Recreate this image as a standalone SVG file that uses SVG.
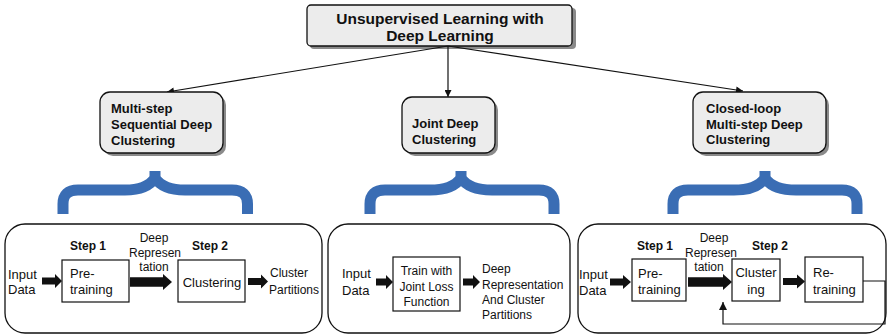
<svg xmlns="http://www.w3.org/2000/svg" width="888" height="336" viewBox="0 0 888 336">
<defs>
<style>
.t{font-family:"Liberation Sans",Arial,sans-serif;fill:#111}
.b{font-weight:bold}
.nd{fill:#ececec;stroke:#111;stroke-width:1.3}
.sh{fill:#8a8a8a}
.br{fill:none;stroke:#3a6db4;stroke-width:11;stroke-linejoin:miter}
.ob{fill:#fff;stroke:#111;stroke-width:1.3}
.bx{fill:#fff;stroke:#111;stroke-width:1.2}
.ln{fill:none;stroke:#111;stroke-width:1.2}
.ba{fill:#111}
</style>
<marker id="ah" viewBox="0 0 10 10" refX="10" refY="5" markerWidth="9" markerHeight="7" markerUnits="userSpaceOnUse" orient="auto">
<path d="M0,0 L10,5 L0,10 z" fill="#111"/>
</marker>
<marker id="ah2" viewBox="0 0 10 10" refX="10" refY="5" markerWidth="11" markerHeight="8" markerUnits="userSpaceOnUse" orient="auto">
<path d="M0,0 L10,5 L0,10 z" fill="#111"/>
</marker>
</defs>

<g id="root">
<rect class="sh" x="310" y="8" width="266" height="41" rx="4"/>
<rect class="nd" x="307" y="5" width="265" height="41" rx="4"/>
<text class="t b" x="440" y="23.5" font-size="15.5" text-anchor="middle">Unsupervised Learning with</text>
<text class="t b" x="440" y="41" font-size="15.5" text-anchor="middle">Deep Learning</text>
</g>

<g id="connectors">
<line class="ln" x1="448" y1="46" x2="167" y2="92" marker-end="url(#ah)"/>
<line class="ln" x1="448" y1="46" x2="448" y2="97" marker-end="url(#ah)"/>
<line class="ln" x1="448" y1="46" x2="743" y2="91" marker-end="url(#ah)"/>
</g>

<g id="multistep">
<rect class="sh" x="103" y="95" width="123" height="61" rx="10"/>
<rect class="nd" x="100" y="92" width="123" height="61" rx="10"/>
<text class="t b" x="111" y="113" font-size="13">Multi-step</text>
<text class="t b" x="111" y="129" font-size="13">Sequential Deep</text>
<text class="t b" x="111" y="145" font-size="13">Clustering</text>
</g>

<g id="joint">
<rect class="sh" x="405" y="100" width="93" height="56" rx="10"/>
<rect class="nd" x="402" y="97" width="93" height="56" rx="10"/>
<text class="t b" x="412" y="128" font-size="13">Joint Deep</text>
<text class="t b" x="412" y="143.5" font-size="13">Clustering</text>
</g>

<g id="closedloop">
<rect class="sh" x="696" y="95" width="133" height="61" rx="10"/>
<rect class="nd" x="693" y="92" width="133" height="61" rx="10"/>
<text class="t b" x="706" y="113" font-size="13">Closed-loop</text>
<text class="t b" x="706" y="128.5" font-size="13">Multi-step Deep</text>
<text class="t b" x="706" y="144" font-size="13">Clustering</text>
</g>

<g id="braces">
<path class="br" d="M63,214 V204 Q63,190 78,190 H125 Q147,190 155,178 V171 M155,178 Q163,190 185,190 H232 Q247.5,190 247.5,204 V214"/>
<path class="br" d="M370,214 V204 Q370,190 385,190 H430 Q453,190 461,178 V171 M461,178 Q469,190 492,190 H539 Q554,190 554,204 V214"/>
<path class="br" d="M673,214 V204 Q673,190 688,190 H734 Q757,190 765,178 V171 M765,178 Q773,190 796,190 H842 Q857,190 857,204 V214"/>
</g>

<g id="panel-sequential">
<rect class="ob" x="5" y="224" width="317" height="109" rx="20"/>
<text class="t" x="8" y="278.5" font-size="13">Input</text>
<text class="t" x="8" y="294" font-size="13">Data</text>
<polygon class="ba" points="42,277.5 55,277.5 55,274 62,281 55,288 55,284.5 42,284.5"/>
<text class="t b" x="70" y="249.5" font-size="12">Step 1</text>
<rect class="bx" x="62" y="260" width="67" height="42"/>
<text class="t" x="70" y="278" font-size="13">Pre-</text>
<text class="t" x="70" y="294" font-size="13">training</text>
<polygon class="ba" points="130,277.3 163,277.3 163,274 172,282 163,290 163,286.7 130,286.7"/>
<text class="t" x="154" y="242" font-size="12" text-anchor="middle">Deep</text>
<text class="t" x="155" y="257" font-size="12" text-anchor="middle">Represen</text>
<text class="t" x="154" y="271" font-size="12" text-anchor="middle">tation</text>
<text class="t b" x="192" y="249.5" font-size="12">Step 2</text>
<rect class="bx" x="178" y="260" width="67" height="42"/>
<text class="t" x="212" y="286.5" font-size="13" text-anchor="middle">Clustering</text>
<polygon class="ba" points="248,278 261,278 261,274.5 268,281.5 261,288.5 261,285 248,285"/>
<text class="t" x="270" y="277" font-size="12">Cluster</text>
<text class="t" x="269" y="293.5" font-size="12">Partitions</text>
</g>

<g id="panel-joint">
<rect class="ob" x="328" y="224" width="242" height="109" rx="20"/>
<text class="t" x="342" y="278" font-size="13">Input</text>
<text class="t" x="342" y="294.5" font-size="13">Data</text>
<polygon class="ba" points="376,278.5 386,278.5 386,275 393,282 386,289 386,285.5 376,285.5"/>
<rect class="bx" x="393" y="257" width="67" height="54"/>
<text class="t" x="426.5" y="275" font-size="12" text-anchor="middle">Train with</text>
<text class="t" x="426.5" y="290.5" font-size="12" text-anchor="middle">Joint Loss</text>
<text class="t" x="426.5" y="305.5" font-size="12" text-anchor="middle">Function</text>
<polygon class="ba" points="463,278.5 473,278.5 473,275 480,282 473,289 473,285.5 463,285.5"/>
<text class="t" x="482" y="273" font-size="12">Deep</text>
<text class="t" x="482" y="289" font-size="12">Representation</text>
<text class="t" x="482" y="304" font-size="12">And Cluster</text>
<text class="t" x="482" y="319" font-size="12">Partitions</text>
</g>

<g id="panel-closedloop">
<rect class="ob" x="578" y="224" width="308" height="109" rx="20"/>
<text class="t" x="579" y="279" font-size="13">Input</text>
<text class="t" x="579" y="295" font-size="13">Data</text>
<polygon class="ba" points="610,278.5 623,278.5 623,275 631,282 623,289 623,285.5 610,285.5"/>
<text class="t b" x="637" y="249.5" font-size="12">Step 1</text>
<rect class="bx" x="632" y="259" width="54" height="42"/>
<text class="t" x="638" y="277.5" font-size="13">Pre-</text>
<text class="t" x="638" y="294" font-size="13">training</text>
<polygon class="ba" points="688,277.3 723,277.3 723,274 732,282 723,290 723,286.7 688,286.7"/>
<text class="t" x="714" y="242" font-size="12" text-anchor="middle">Deep</text>
<text class="t" x="711" y="257" font-size="12" text-anchor="middle">Represen</text>
<text class="t" x="709" y="271" font-size="12" text-anchor="middle">tation</text>
<text class="t b" x="752" y="249.5" font-size="12">Step 2</text>
<rect class="bx" x="732" y="259" width="48" height="42"/>
<text class="t" x="756" y="276.5" font-size="13" text-anchor="middle">Cluster</text>
<text class="t" x="756" y="294" font-size="13" text-anchor="middle">ing</text>
<polygon class="ba" points="783,278 797,278 797,274.5 805,281.5 797,288.5 797,285 783,285"/>
<rect class="bx" x="805" y="257" width="58" height="45"/>
<text class="t" x="813" y="276.5" font-size="13">Re-</text>
<text class="t" x="813" y="294" font-size="13">training</text>
<polyline class="ln" points="863,281 885,281 885,324 723,324 723,302" marker-end="url(#ah2)"/>
</g>
</svg>
